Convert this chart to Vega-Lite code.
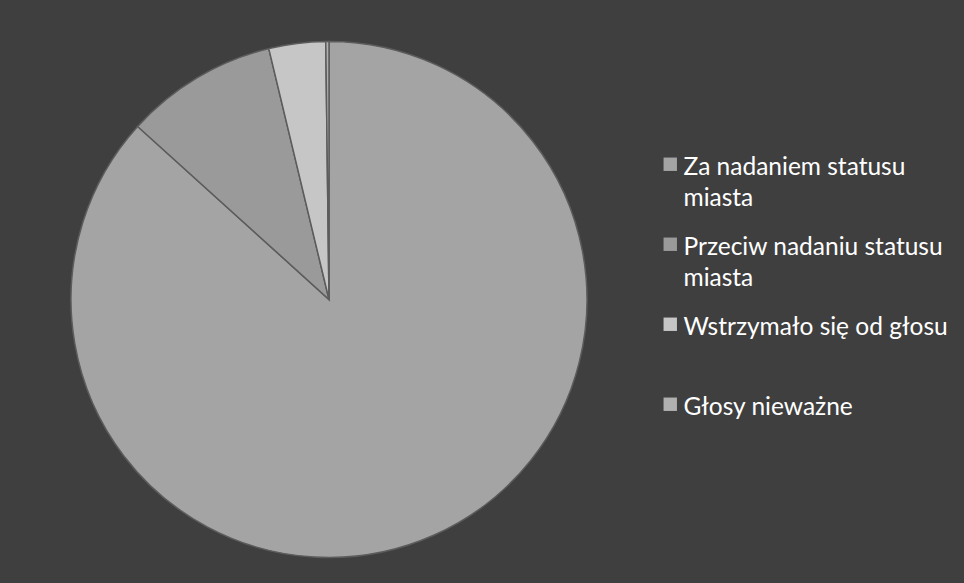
{
  "$schema": "https://vega.github.io/schema/vega-lite/v6.json",
  "width": 658,
  "height": 567,
  "autosize": {"type": "none"},
  "padding": {"left": 0, "top": 16, "right": 306, "bottom": 0},
  "background": "#3f3f3f",
  "config": {
    "view": {"stroke": null},
    "style": {"guide-label": {"lineHeight": 31, "dy": -8}}
  },
  "data": {
    "values": [
      {"kategoria": "Za nadaniem statusu miasta", "procent": 86.7, "kolejnosc": 1},
      {"kategoria": "Przeciw nadaniu statusu miasta", "procent": 9.55, "kolejnosc": 2},
      {"kategoria": "Wstrzymało się od głosu", "procent": 3.55, "kolejnosc": 3},
      {"kategoria": "Głosy nieważne", "procent": 0.2, "kolejnosc": 4}
    ]
  },
  "mark": {"type": "arc", "outerRadius": 258, "stroke": "#5c5c5c", "strokeWidth": 1.5},
  "encoding": {
    "theta": {"field": "procent", "type": "quantitative", "stack": true},
    "order": {"field": "kolejnosc", "type": "quantitative"},
    "color": {
      "field": "kategoria",
      "type": "nominal",
      "scale": {
        "domain": ["Za nadaniem statusu miasta", "Przeciw nadaniu statusu miasta", "Wstrzymało się od głosu", "Głosy nieważne"],
        "range": ["#a4a4a4", "#9a9a9a", "#c6c6c6", "#b0b0b0"]
      },
      "legend": {
        "title": null,
        "orient": "none",
        "legendX": 658,
        "legendY": 136,
        "padding": 0,
        "symbolType": "square",
        "symbolSize": 180,
        "symbolStrokeWidth": 0,
        "symbolOpacity": 1,
        "labelColor": "#ffffff",
        "labelFont": "Lato",
        "labelFontSize": 24.5,
        "labelBaseline": "top",
        "labelOffset": 1,
        "labelLimit": 400,
        "gridAlign": "all",
        "rowPadding": 21,
        "labelExpr": "datum.label == 'Za nadaniem statusu miasta' ? ['Za nadaniem statusu', 'miasta'] : datum.label == 'Przeciw nadaniu statusu miasta' ? ['Przeciw nadaniu statusu', 'miasta'] : datum.label"
      }
    }
  }
}
